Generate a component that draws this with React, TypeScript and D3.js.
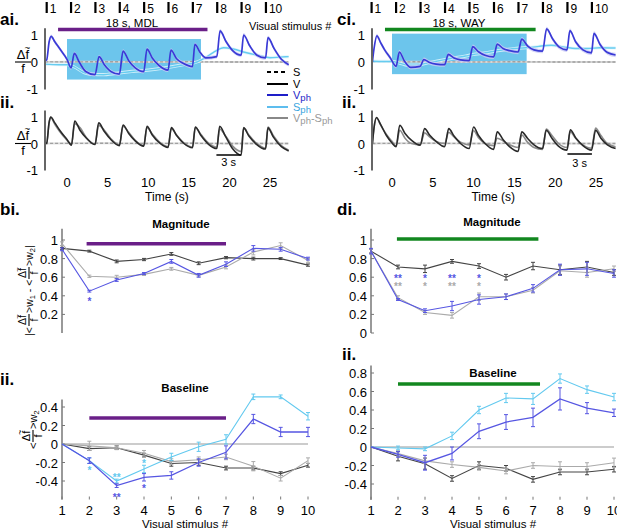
import * as d3 from 'd3';
import React from 'react';

type Pt = [number, number];

// ---- data ----
const stimulusNumbers = [1, 2, 3, 4, 5, 6, 7, 8, 9, 10];
const stimulusOnsets = [-2.5, 0.5, 3.5, 6.5, 9.5, 12.5, 15.5, 18.5, 21.5, 24.5];
const timeTicks = [0, 5, 10, 15, 20, 25];
const traceTicks = [-1, 0, 1];
const conditioningWindow = [0, 16.5];
const treatmentBar = [-1.1, 17.3];

// ai (MDL): Vph, Sph, S
const aiVph: Pt[] = [
  [-2.7, 0.05], [-2.5, 0.08], [-2.2, 0.75], [-1.95, 0.95], [-1.5, 0.75], [-0.8, 0.45], [0.0, 0.1], [0.5, -0.22],
  [0.9, 0.32], [1.5, 0.0], [2.3, -0.35], [3.45, -0.47],
  [3.95, 0.2], [4.6, -0.1], [5.4, -0.35], [6.45, -0.45],
  [6.9, 0.4], [7.6, 0.05], [8.4, -0.22], [9.45, -0.36],
  [9.85, 0.48], [10.5, 0.15], [11.3, -0.12], [12.45, -0.3],
  [12.8, 0.44], [13.5, 0.12], [14.3, -0.05], [15.45, -0.17],
  [15.75, 0.65], [16.4, 0.35], [17.1, 0.15], [18.45, 0.2],
  [18.85, 1.15], [19.6, 0.75], [20.4, 0.42], [21.45, 0.25],
  [21.75, 1.0], [22.5, 0.6], [23.4, 0.25], [24.45, 0.15],
  [24.75, 0.9], [25.5, 0.5], [26.4, 0.1], [27.3, -0.1],
];
const aiSph: Pt[] = [
  [-2.7, -0.08], [-1, -0.1], [0, -0.1], [1, -0.2], [2, -0.38], [3, -0.45], [4.5, -0.47], [6, -0.42],
  [8, -0.35], [10, -0.3], [12, -0.22], [14, -0.12], [16, 0.0], [17, 0.15], [18, 0.35], [19.3, 0.53],
  [20.5, 0.48], [22, 0.35], [23.5, 0.25], [25, 0.16], [26.2, 0.18], [27.3, 0.2],
];
const aiS: Pt[] = [[-2.7, 0], [5, 0.01], [10, 0], [15, 0.01], [20, 0], [27.3, 0]];

// aii (MDL): V, Vph-Sph
const aiiV: Pt[] = [
  [-2.7, 0.0], [-2.5, 0.02], [-2.2, 0.8], [-2.0, 1.0], [-1.5, 0.78], [-0.9, 0.5], [0, 0.15], [0.55, -0.06],
  [0.95, 0.85], [1.6, 0.5], [2.4, 0.2], [3.45, -0.04],
  [3.9, 0.78], [4.6, 0.45], [5.4, 0.15], [6.45, -0.08],
  [6.9, 0.7], [7.6, 0.38], [8.4, 0.1], [9.45, -0.1],
  [9.85, 0.65], [10.5, 0.32], [11.4, 0.02], [12.45, -0.15],
  [12.85, 0.6], [13.5, 0.3], [14.4, 0.0], [15.45, -0.16],
  [15.8, 0.62], [16.5, 0.3], [17.4, -0.02], [18.45, -0.19],
  [18.8, 0.65], [19.5, 0.28], [20.4, -0.2], [21.45, -0.44],
  [21.75, 0.59], [22.4, 0.28], [23.3, -0.02], [24.45, -0.21],
  [24.75, 0.59], [25.4, 0.25], [26.4, -0.12], [27.3, -0.28],
];
const aiiDiff: Pt[] = [
  [-2.7, 0.0], [-2.5, 0.02], [-2.2, 0.8], [-2.0, 0.98], [-1.5, 0.72], [-0.9, 0.45], [0, 0.12], [0.55, -0.05],
  [0.95, 0.75], [1.6, 0.6], [2.4, 0.22], [3.45, -0.02],
  [3.9, 0.68], [4.6, 0.5], [5.4, 0.18], [6.45, -0.05],
  [6.9, 0.65], [7.6, 0.42], [8.4, 0.12], [9.45, -0.08],
  [9.85, 0.6], [10.5, 0.36], [11.4, 0.05], [12.45, -0.12],
  [12.85, 0.56], [13.5, 0.32], [14.4, 0.02], [15.45, -0.14],
  [15.8, 0.6], [16.5, 0.34], [17.4, 0.02], [18.45, -0.14],
  [18.8, 0.55], [19.5, 0.3], [20.4, -0.1], [21.45, -0.3],
  [21.75, 0.6], [22.4, 0.32], [23.3, 0.02], [24.45, -0.18],
  [24.75, 0.62], [25.4, 0.3], [26.4, -0.08], [27.3, -0.25],
];

// ci (WAY): Vph, Sph, S
const ciVph: Pt[] = [
  [-2.4, 0.0], [-2.2, 0.5], [-1.85, 0.97], [-1.4, 0.72], [-0.9, 0.45], [-0.2, 0.15], [0.5, -0.16],
  [0.9, 0.37], [1.5, 0.05], [2.3, -0.2], [3.45, -0.16],
  [3.9, 0.09], [4.6, -0.02], [5.4, -0.08], [6.45, -0.1],
  [6.9, 0.28], [7.6, 0.15], [8.4, 0.08], [9.45, 0.05],
  [9.9, 0.57], [10.6, 0.38], [11.4, 0.25], [12.45, 0.19],
  [12.9, 0.66], [13.6, 0.5], [14.4, 0.42], [15.45, 0.37],
  [15.9, 0.85], [16.6, 0.6], [17.4, 0.45], [18.45, 0.4],
  [18.95, 1.23], [19.7, 0.85], [20.5, 0.55], [21.45, 0.45],
  [21.8, 1.16], [22.5, 0.75], [23.4, 0.45], [24.45, 0.34],
  [24.75, 1.06], [25.5, 0.65], [26.4, 0.35], [27.4, 0.26],
];
const ciSph: Pt[] = [
  [-2.4, 0.03], [-1, 0.02], [0, 0.02], [1, -0.05], [2, -0.12], [3, -0.12], [4, -0.06], [5, 0.0],
  [6, 0.06], [7, 0.12], [8, 0.17], [9, 0.22], [10, 0.28], [11, 0.32], [12, 0.37], [13, 0.42],
  [14, 0.46], [15, 0.5], [16, 0.52], [17, 0.54], [18, 0.58], [19.5, 0.62], [21, 0.56], [22.5, 0.5],
  [24, 0.5], [25.5, 0.53], [27.4, 0.52],
];
const ciS: Pt[] = [[-2.4, 0], [5, 0.01], [10, 0], [15, 0.01], [20, 0], [27.4, 0]];

// cii (WAY): V, Vph-Sph
const ciiV: Pt[] = [
  [-2.4, 0.0], [-2.2, 0.6], [-1.9, 0.98], [-1.4, 0.72], [-0.7, 0.31], [0, 0.02], [0.5, -0.12],
  [0.95, 0.69], [1.6, 0.38], [2.4, 0.12], [3.45, -0.06],
  [4.0, 0.56], [4.6, 0.32], [5.4, 0.08], [6.45, -0.12],
  [6.95, 0.56], [7.6, 0.28], [8.4, 0.0], [9.45, -0.19],
  [10.0, 0.62], [10.6, 0.3], [11.4, 0.0], [12.45, -0.22],
  [12.9, 0.44], [13.6, 0.15], [14.4, -0.12], [15.45, -0.3],
  [15.9, 0.44], [16.6, 0.2], [17.4, -0.05], [18.45, -0.19],
  [18.9, 0.5], [19.6, 0.2], [20.4, -0.1], [21.45, -0.25],
  [21.85, 0.52], [22.5, 0.22], [23.4, -0.08], [24.45, -0.25],
  [24.95, 0.5], [25.6, 0.2], [26.4, -0.05], [27.4, -0.19],
];
const ciiDiff: Pt[] = [
  [-2.4, 0.0], [-2.2, 0.6], [-1.9, 0.96], [-1.4, 0.7], [-0.7, 0.35], [0, 0.08], [0.5, -0.1],
  [0.95, 0.5], [1.6, 0.2], [2.4, 0.0], [3.45, -0.05],
  [4.0, 0.4], [4.6, 0.25], [5.4, 0.08], [6.45, 0.0],
  [6.95, 0.42], [7.6, 0.25], [8.4, 0.05], [9.45, -0.05],
  [10.0, 0.48], [10.6, 0.22], [11.4, 0.0], [12.45, -0.08],
  [12.9, 0.2], [13.6, 0.1], [14.4, -0.05], [15.45, -0.15],
  [15.9, 0.32], [16.6, 0.05], [17.4, -0.15], [18.45, -0.22],
  [18.9, 0.55], [19.6, 0.3], [20.4, 0.0], [21.45, -0.15],
  [21.85, 0.45], [22.5, 0.2], [23.4, -0.05], [24.45, -0.18],
  [24.95, 0.58], [25.6, 0.3], [26.4, 0.0], [27.4, -0.12],
];

// bi magnitude (MDL)
const biV = [0.91, 0.88, 0.77, 0.79, 0.85, 0.75, 0.81, 0.8, 0.8, 0.73];
const biVSem = [0.01, 0.01, 0.015, 0.012, 0.015, 0.015, 0.012, 0.015, 0.01, 0.012];
const biDiff = [0.96, 0.61, 0.6, 0.63, 0.69, 0.62, 0.71, 0.87, 0.94, 0.78];
const biDiffSem = [0.02, 0.012, 0.02, 0.012, 0.015, 0.015, 0.02, 0.03, 0.03, 0.02];
const biVph = [0.9, 0.45, 0.57, 0.64, 0.77, 0.62, 0.74, 0.91, 0.9, 0.8];
const biVphSem = [0.015, 0.01, 0.015, 0.01, 0.02, 0.02, 0.025, 0.03, 0.02, 0.015];

// bii baseline (MDL)
const biiV = [0, -0.05, -0.04, -0.12, -0.21, -0.2, -0.26, -0.26, -0.32, -0.23];
const biiVSem = [0, 0.02, 0.02, 0.02, 0.03, 0.03, 0.02, 0.02, 0.02, 0.02];
const biiDiff = [0, -0.02, -0.04, -0.1, -0.19, -0.17, -0.14, -0.24, -0.37, -0.18];
const biiDiffSem = [0, 0.05, 0.02, 0.03, 0.03, 0.03, 0.03, 0.05, 0.03, 0.03];
const biiSph = [0, -0.18, -0.4, -0.27, -0.14, -0.03, 0.05, 0.51, 0.51, 0.3];
const biiSphSem = [0, 0.03, 0.02, 0.04, 0.04, 0.05, 0.05, 0.03, 0.02, 0.04];
const biiVph = [0, -0.18, -0.45, -0.36, -0.34, -0.2, -0.09, 0.27, 0.13, 0.13];
const biiVphSem = [0, 0.03, 0.02, 0.04, 0.04, 0.04, 0.07, 0.05, 0.05, 0.05];

// di magnitude (WAY)
const diV = [0.88, 0.71, 0.69, 0.77, 0.72, 0.6, 0.72, 0.68, 0.71, 0.65];
const diVSem = [0.02, 0.02, 0.04, 0.02, 0.025, 0.03, 0.04, 0.05, 0.06, 0.03];
const diDiff = [0.88, 0.38, 0.22, 0.19, 0.39, 0.39, 0.46, 0.67, 0.65, 0.69];
const diDiffSem = [0.02, 0.02, 0.02, 0.03, 0.04, 0.03, 0.03, 0.05, 0.05, 0.03];
const diVph = [0.88, 0.36, 0.24, 0.29, 0.36, 0.39, 0.48, 0.68, 0.69, 0.64];
const diVphSem = [0.03, 0.01, 0.02, 0.05, 0.05, 0.03, 0.04, 0.06, 0.07, 0.04];

// dii baseline (WAY)
const diiV = [0, -0.1, -0.18, -0.34, -0.2, -0.23, -0.35, -0.27, -0.27, -0.24];
const diiVSem = [0, 0.05, 0.06, 0.03, 0.04, 0.03, 0.03, 0.03, 0.03, 0.03];
const diiDiff = [0, -0.07, -0.15, -0.19, -0.22, -0.26, -0.2, -0.21, -0.21, -0.17];
const diiDiffSem = [0, 0.03, 0.03, 0.03, 0.03, 0.03, 0.03, 0.05, 0.04, 0.05];
const diiSph = [0, -0.01, -0.02, 0.12, 0.4, 0.53, 0.52, 0.74, 0.62, 0.54];
const diiSphSem = [0, 0.02, 0.02, 0.04, 0.04, 0.05, 0.06, 0.05, 0.04, 0.04];
const diiVph = [0, -0.08, -0.17, -0.07, 0.17, 0.27, 0.32, 0.52, 0.42, 0.37];
const diiVphSem = [0, 0.03, 0.08, 0.07, 0.08, 0.08, 0.1, 0.12, 0.06, 0.04];

const magTicksB = [0.2, 0.4, 0.6, 0.8, 1];
const magTicksD = [0, 0.2, 0.4, 0.6, 0.8, 1];
const baseTicksB = [-0.4, -0.2, 0, 0.2, 0.4];
const baseTicksD = [-0.4, -0.2, 0, 0.2, 0.4, 0.6, 0.8];

// significance marks: [stimulus, value, label, series]
const biStars: [number, number, string, string][] = [[2, 0.36, '*', 'vph']];
const biiStars: [number, number, string, string][] = [
  [2, -0.26, '*', 'sph'], [3, -0.34, '**', 'sph'], [3, -0.56, '**', 'vph'], [4, -0.19, '*', 'sph'], [4, -0.46, '*', 'vph'],
];
const diStars: [number, number, string, string][] = [
  [2, 0.61, '**', 'vph'], [2, 0.52, '**', 'diff'], [3, 0.61, '*', 'vph'], [3, 0.52, '*', 'diff'],
  [4, 0.61, '**', 'vph'], [4, 0.52, '**', 'diff'], [5, 0.61, '*', 'vph'], [5, 0.52, '*', 'diff'],
];

// ---- styling ----
const FONT = '"Liberation Sans", Arial, sans-serif';
const TRACE = { vph: '#3a3ad6', sph: '#66ccf0', v: '#2a2a2a', diff: '#8c8c8c', s: '#a0a0a0' };
const STAT = { vph: '#5656e2', sph: '#62c9ef', v: '#444', diff: '#aaa' };
const PURPLE = '#6a1f88';
const GREEN = '#12871f';

const xTimeA = d3.scaleLinear().domain([0, 25]).range([67, 270]);
const xTimeC = d3.scaleLinear().domain([0, 25]).range([392, 596]);
const yTop = d3.scaleLinear().domain([-1, 1]).range([89, 35]);
const yBot = d3.scaleLinear().domain([-1, 1]).range([170, 117]);

const xStatB = d3.scaleLinear().domain([1, 10]).range([62, 308]);
const xStatD = d3.scaleLinear().domain([1, 10]).range([371, 614]);
const yMag = d3.scaleLinear().domain([0, 1]).range([333, 240]);
const yBaseB = d3.scaleLinear().domain([0, 0.4]).range([444, 407]);
const yBaseD = d3.scaleLinear().domain([0, 0.8]).range([447, 373]);

type Lin = d3.ScaleLinear<number, number>;

const tracePath = (x: Lin, y: Lin, data: Pt[]) =>
  d3.line<Pt>().x(d => x(d[0])).y(d => y(d[1])).curve(d3.curveMonotoneX)(data) || '';
const bandPath = (x: Lin, y: Lin, data: Pt[], sem: number) =>
  d3.area<Pt>().x(d => x(d[0])).y0(d => y(d[1] - sem)).y1(d => y(d[1] + sem)).curve(d3.curveMonotoneX)(data) || '';

const Frac = ({ cx, cy, size, half }: { cx: number; cy: number; size: number; half: number }) => (
  <g transform={`translate(${cx},${cy})`} fontSize={size}>
    <text x={0} y={-size * 0.25} textAnchor="middle">Δf</text>
    <text x={size * 0.33} y={-size * 0.88} textAnchor="middle" fontSize={size * 0.75}>~</text>
    <line x1={-half} x2={half} y1={0} y2={0} stroke="#000" strokeWidth={1.1} />
    <text x={0} y={size * 0.85} textAnchor="middle">f</text>
  </g>
);

const TimeYAxis = ({ ax, y }: { ax: number; y: Lin }) => (
  <g>
    <line x1={ax} x2={ax} y1={y(1.25)} y2={y(-1.02)} stroke="#666" strokeWidth={2} />
    {traceTicks.map(t => (
      <text key={t} x={ax - 7} y={y(t) + 5} textAnchor="end" fontSize={13}>{t}</text>
    ))}
  </g>
);

const StimulusRow = ({ x }: { x: Lin }) => (
  <g>
    {stimulusNumbers.map((n, i) => (
      <g key={n}>
        <line x1={x(stimulusOnsets[i])} x2={x(stimulusOnsets[i])} y1={2} y2={13} stroke="#000" strokeWidth={2.2} />
        <text x={x(stimulusOnsets[i]) + 3} y={12.5} fontSize={12}>{n}</text>
      </g>
    ))}
  </g>
);

interface StatSeries { values: number[]; sems: number[]; color: string; width: number; }

const StatPanel = (p: {
  x: Lin; y: Lin; top: number; bottom: number; ticks: number[]; series: StatSeries[];
  stars: [number, number, string, string][]; bar: [number, number, number]; barColor: string;
  zero: boolean; xLabels: boolean;
}) => {
  const x0 = p.x(1);
  const line = d3.line<number>().x((_, i) => p.x(stimulusNumbers[i])).y(d => p.y(d));
  return (
    <g>
      <line x1={x0} x2={x0} y1={p.y(p.top)} y2={p.y(p.bottom)} stroke="#777" strokeWidth={1.5} />
      {p.ticks.map(t => (
        <g key={t}>
          <line x1={x0} x2={x0 + 3} y1={p.y(t)} y2={p.y(t)} stroke="#777" />
          <text x={x0 - 4} y={p.y(t) + 5} textAnchor="end" fontSize={13}>{`${t}`}</text>
        </g>
      ))}
      {p.zero && <line x1={x0} x2={p.x(10)} y1={p.y(0)} y2={p.y(0)} stroke="#999" strokeWidth={1} />}
      <line x1={p.x(p.bar[0])} x2={p.x(p.bar[1])} y1={p.y(p.bar[2])} y2={p.y(p.bar[2])} stroke={p.barColor} strokeWidth={3.5} />
      {p.series.map((s, k) => (
        <g key={k} stroke={s.color}>
          <path d={line(s.values) || ''} fill="none" strokeWidth={s.width} />
          {s.values.map((v, i) => {
            const cx = p.x(stimulusNumbers[i]);
            if (s.sems[i] === 0) return null;
            return (
              <g key={i} strokeWidth={1}>
                <line x1={cx} x2={cx} y1={p.y(v - s.sems[i])} y2={p.y(v + s.sems[i])} />
                <line x1={cx - 2} x2={cx + 2} y1={p.y(v - s.sems[i])} y2={p.y(v - s.sems[i])} />
                <line x1={cx - 2} x2={cx + 2} y1={p.y(v + s.sems[i])} y2={p.y(v + s.sems[i])} />
              </g>
            );
          })}
        </g>
      ))}
      {p.stars.map(([s, v, label, key], i) => (
        <text key={i} x={p.x(s)} y={p.y(v) + 5.5} textAnchor="middle" fontSize={10} fontWeight="bold"
          fill={(STAT as any)[key]}>{label}</text>
      ))}
      {p.xLabels && stimulusNumbers.map(n => (
        <g key={n}>
          <line x1={p.x(n)} x2={p.x(n)} y1={p.y(p.bottom)} y2={p.y(p.bottom) - 3} stroke="#777" />
          <text x={p.x(n)} y={p.y(p.bottom) + 15} textAnchor="middle" fontSize={13}>{n}</text>
        </g>
      ))}
    </g>
  );
};

const Sub = ({ children }: { children: string }) => (
  <tspan fontSize={9.5} dy={2}>{children}</tspan>
);

const App = () => {
  const legendY = [72, 84, 95, 107, 118];
  return (
    <svg width={617} height={529} style={{ position: 'absolute', left: 0, top: 0, background: '#fff' }}
      fontFamily={FONT}>
      {/* ---------- ai ---------- */}
      <text x={0} y={25} fontSize={17} fontWeight="bold">ai.</text>
      <StimulusRow x={xTimeA} />
      <rect x={xTimeA(conditioningWindow[0])} y={yTop(0.85)} width={xTimeA(conditioningWindow[1]) - xTimeA(conditioningWindow[0])}
        height={yTop(-0.65) - yTop(0.85)} fill="#6cc5ec" />
      <line x1={xTimeA(treatmentBar[0])} x2={xTimeA(treatmentBar[1])} y1={yTop(1.2)} y2={yTop(1.2)} stroke={PURPLE} strokeWidth={3.5} />
      <text x={xTimeA(8)} y={26.5} textAnchor="middle" fontSize={11.5}>18 s, MDL</text>
      <path d={bandPath(xTimeA, yTop, aiS, 0.04)} fill="#d6d6d6" />
      <path d={tracePath(xTimeA, yTop, aiS)} fill="none" stroke={TRACE.s} strokeWidth={1.3} strokeDasharray="3,2" />
      <path d={bandPath(xTimeA, yTop, aiSph, 0.06)} fill="#dff4fc" opacity={0.85} />
      <path d={tracePath(xTimeA, yTop, aiSph)} fill="none" stroke={TRACE.sph} strokeWidth={1.4} />
      <path d={bandPath(xTimeA, yTop, aiVph, 0.07)} fill="#c9c9f5" opacity={0.8} />
      <path d={tracePath(xTimeA, yTop, aiVph)} fill="none" stroke={TRACE.vph} strokeWidth={1.7} />
      <TimeYAxis ax={45} y={yTop} />
      <Frac cx={23} cy={yTop(0)} size={13} half={8} />
      <text x={249} y={30} fontSize={11}>Visual stimulus #</text>

      {/* legend */}
      <g fontSize={11}>
        <line x1={267} x2={288} y1={legendY[0]} y2={legendY[0]} stroke="#000" strokeWidth={2} strokeDasharray="4,3" />
        <text x={293} y={legendY[0] + 4}>S</text>
        <line x1={267} x2={288} y1={legendY[1]} y2={legendY[1]} stroke="#000" strokeWidth={2} />
        <text x={293} y={legendY[1] + 4}>V</text>
        <line x1={267} x2={288} y1={legendY[2]} y2={legendY[2]} stroke="#1e1ec8" strokeWidth={2} />
        <text x={293} y={legendY[2] + 4} fill="#1e1ec8">V<Sub>ph</Sub></text>
        <line x1={267} x2={288} y1={legendY[3]} y2={legendY[3]} stroke="#5dbdee" strokeWidth={2} />
        <text x={293} y={legendY[3] + 4} fill="#3aa6e0">S<Sub>ph</Sub></text>
        <line x1={267} x2={288} y1={legendY[4]} y2={legendY[4]} stroke="#888" strokeWidth={2} />
        <text x={293} y={legendY[4] + 4} fill="#999">V<Sub>ph</Sub><tspan dy={-2}>-S</tspan><Sub>ph</Sub></text>
      </g>

      {/* ---------- aii ---------- */}
      <text x={0} y={108} fontSize={17} fontWeight="bold">ii.</text>
      <path d={bandPath(xTimeA, yBot, aiS, 0.04)} fill="#dedede" />
      <path d={tracePath(xTimeA, yBot, aiS)} fill="none" stroke={TRACE.s} strokeWidth={1.3} strokeDasharray="3,2" />
      <path d={tracePath(xTimeA, yBot, aiiDiff)} fill="none" stroke={TRACE.diff} strokeWidth={1.6} />
      <path d={tracePath(xTimeA, yBot, aiiV)} fill="none" stroke={TRACE.v} strokeWidth={1.6} />
      <TimeYAxis ax={45} y={yBot} />
      <Frac cx={23} cy={yBot(0)} size={13} half={8} />
      <line x1={xTimeA(18.4)} x2={xTimeA(21.4)} y1={155} y2={155} stroke="#000" strokeWidth={1.5} />
      <text x={xTimeA(19.9)} y={166} textAnchor="middle" fontSize={11}>3 s</text>
      {timeTicks.map(t => (
        <text key={t} x={xTimeA(t)} y={187} textAnchor="middle" fontSize={13}>{t}</text>
      ))}
      <text x={xTimeA(12.3)} y={201} textAnchor="middle" fontSize={12}>Time (s)</text>

      {/* ---------- ci ---------- */}
      <text x={337} y={25} fontSize={17} fontWeight="bold">ci.</text>
      <StimulusRow x={xTimeC} />
      <rect x={xTimeC(conditioningWindow[0])} y={yTop(1.05)} width={xTimeC(conditioningWindow[1]) - xTimeC(conditioningWindow[0])}
        height={yTop(-0.45) - yTop(1.05)} fill="#6cc5ec" />
      <line x1={xTimeC(-0.86)} x2={xTimeC(17.6)} y1={yTop(1.2)} y2={yTop(1.2)} stroke={GREEN} strokeWidth={3.5} />
      <text x={xTimeC(8.2)} y={26.5} textAnchor="middle" fontSize={11.5}>18 s, WAY</text>
      <path d={bandPath(xTimeC, yTop, ciS, 0.04)} fill="#d6d6d6" />
      <path d={tracePath(xTimeC, yTop, ciS)} fill="none" stroke={TRACE.s} strokeWidth={1.3} strokeDasharray="3,2" />
      <path d={bandPath(xTimeC, yTop, ciSph, 0.06)} fill="#dff4fc" opacity={0.85} />
      <path d={tracePath(xTimeC, yTop, ciSph)} fill="none" stroke={TRACE.sph} strokeWidth={1.4} />
      <path d={bandPath(xTimeC, yTop, ciVph, 0.08)} fill="#c9c9f5" opacity={0.8} />
      <path d={tracePath(xTimeC, yTop, ciVph)} fill="none" stroke={TRACE.vph} strokeWidth={1.7} />
      <TimeYAxis ax={372} y={yTop} />

      {/* ---------- cii ---------- */}
      <text x={342} y={108} fontSize={17} fontWeight="bold">ii.</text>
      <path d={bandPath(xTimeC, yBot, ciS, 0.04)} fill="#dedede" />
      <path d={tracePath(xTimeC, yBot, ciS)} fill="none" stroke={TRACE.s} strokeWidth={1.3} strokeDasharray="3,2" />
      <path d={tracePath(xTimeC, yBot, ciiDiff)} fill="none" stroke={TRACE.diff} strokeWidth={1.6} />
      <path d={tracePath(xTimeC, yBot, ciiV)} fill="none" stroke={TRACE.v} strokeWidth={1.6} />
      <TimeYAxis ax={372} y={yBot} />
      <line x1={xTimeC(21.5)} x2={xTimeC(24.5)} y1={154} y2={154} stroke="#000" strokeWidth={1.5} />
      <text x={xTimeC(23)} y={167} textAnchor="middle" fontSize={11}>3 s</text>
      {timeTicks.map(t => (
        <text key={t} x={xTimeC(t)} y={187} textAnchor="middle" fontSize={13}>{t}</text>
      ))}
      <text x={xTimeC(12.4)} y={201} textAnchor="middle" fontSize={12}>Time (s)</text>

      {/* ---------- bi ---------- */}
      <text x={0} y={215} fontSize={17} fontWeight="bold">bi.</text>
      <text x={181} y={228} textAnchor="middle" fontSize={11.5} fontWeight="bold">Magnitude</text>
      <StatPanel x={xStatB} y={yMag} top={1.12} bottom={0} ticks={magTicksB} zero={false} xLabels={false}
        bar={[1.9, 7.0, 0.96]} barColor={PURPLE} stars={biStars}
        series={[
          { values: biV, sems: biVSem, color: STAT.v, width: 1.1 },
          { values: biDiff, sems: biDiffSem, color: STAT.diff, width: 1.1 },
          { values: biVph, sems: biVphSem, color: STAT.vph, width: 1.1 },
        ]} />
      <g transform="translate(29,288) rotate(-90)" fontSize={10.5}>
        <text x={-48} y={3.5}>|&lt;</text>
        <Frac cx={-32} cy={0} size={10.5} half={6} />
        <text x={-25} y={3.5}>&gt;w<tspan fontSize={7.5} dy={2}>1</tspan><tspan dy={-2}> - &lt;</tspan></text>
        <Frac cx={15} cy={0} size={10.5} half={6} />
        <text x={22} y={3.5}>&gt;w<tspan fontSize={7.5} dy={2}>2</tspan><tspan dy={-2}>|</tspan></text>
      </g>

      {/* ---------- bii ---------- */}
      <text x={0} y={385} fontSize={17} fontWeight="bold">ii.</text>
      <text x={185} y={392} textAnchor="middle" fontSize={11.5} fontWeight="bold">Baseline</text>
      <StatPanel x={xStatB} y={yBaseB} top={0.48} bottom={-0.6} ticks={baseTicksB} zero={true} xLabels={true}
        bar={[2.0, 7.0, 0.28]} barColor={PURPLE} stars={biiStars}
        series={[
          { values: biiV, sems: biiVSem, color: STAT.v, width: 1.1 },
          { values: biiDiff, sems: biiDiffSem, color: STAT.diff, width: 1.1 },
          { values: biiSph, sems: biiSphSem, color: STAT.sph, width: 1.1 },
          { values: biiVph, sems: biiVphSem, color: STAT.vph, width: 1.3 },
        ]} />
      <g transform="translate(33,426) rotate(-90)" fontSize={11}>
        <text x={-23} y={3.5}>&lt;</text>
        <Frac cx={-10} cy={0} size={11} half={6} />
        <text x={-3} y={3.5}>&gt;w<tspan fontSize={8} dy={2}>2</tspan></text>
      </g>
      <text x={185} y={528} textAnchor="middle" fontSize={11.5}>Visual stimulus #</text>

      {/* ---------- di ---------- */}
      <text x={337} y={215} fontSize={17} fontWeight="bold">di.</text>
      <text x={492} y={226} textAnchor="middle" fontSize={11.5} fontWeight="bold">Magnitude</text>
      <StatPanel x={xStatD} y={yMag} top={1.12} bottom={0} ticks={magTicksD} zero={false} xLabels={false}
        bar={[1.96, 7.2, 1.01]} barColor={GREEN} stars={diStars}
        series={[
          { values: diV, sems: diVSem, color: STAT.v, width: 1.1 },
          { values: diDiff, sems: diDiffSem, color: STAT.diff, width: 1.1 },
          { values: diVph, sems: diVphSem, color: STAT.vph, width: 1.1 },
        ]} />

      {/* ---------- dii ---------- */}
      <text x={342} y={360} fontSize={17} fontWeight="bold">ii.</text>
      <text x={493} y={377} textAnchor="middle" fontSize={11.5} fontWeight="bold">Baseline</text>
      <StatPanel x={xStatD} y={yBaseD} top={0.88} bottom={-0.57} ticks={baseTicksD} zero={true} xLabels={true}
        bar={[2.0, 7.26, 0.68]} barColor={GREEN} stars={[]}
        series={[
          { values: diiV, sems: diiVSem, color: STAT.v, width: 1.1 },
          { values: diiDiff, sems: diiDiffSem, color: STAT.diff, width: 1.1 },
          { values: diiSph, sems: diiSphSem, color: STAT.sph, width: 1.1 },
          { values: diiVph, sems: diiVphSem, color: STAT.vph, width: 1.3 },
        ]} />
      <text x={493} y={528} textAnchor="middle" fontSize={11.5}>Visual stimulus #</text>
    </svg>
  );
};

export default App;
